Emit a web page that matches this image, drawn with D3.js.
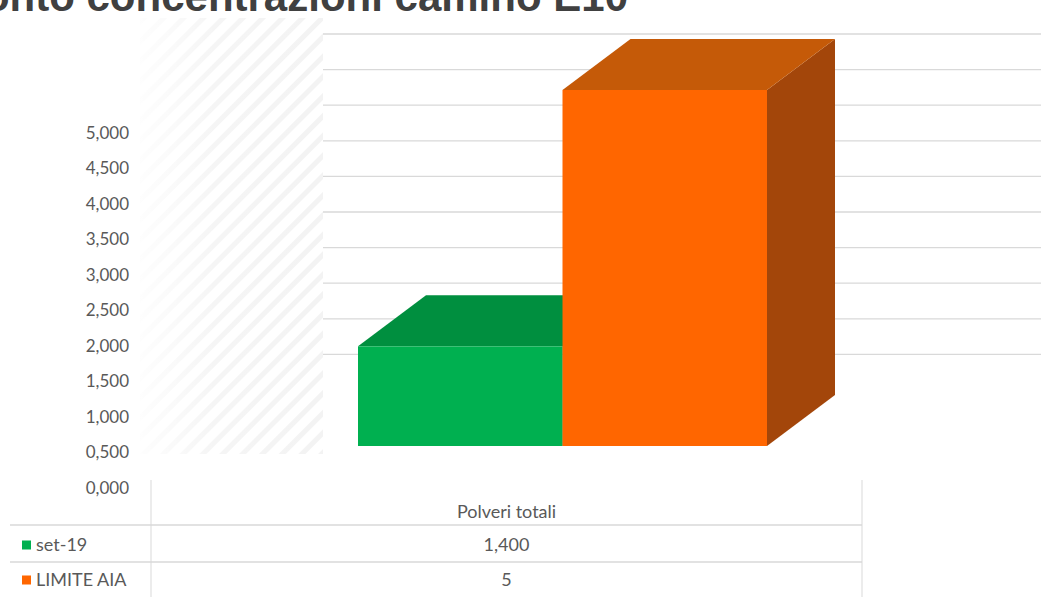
<!DOCTYPE html>
<html>
<head>
<meta charset="utf-8">
<script src="https://cdn.jsdelivr.net/npm/d3@7"></script>
<style>
html,body{margin:0;padding:0;background:#fff;overflow:hidden;}
svg{display:block;}
</style>
</head>
<body>
<svg id="chart" width="1041" height="597"></svg>
<script>
// ---- data ----
const titleText = "Confronto concentrazioni camino E10";
const categories = ["Polveri totali"];
const seriesNames = ["set-19", "LIMITE AIA"];
const seriesValues = [1.4, 5];
const tableLabels = ["1,400", "5"];
const tickValues = [0, 0.5, 1, 1.5, 2, 2.5, 3, 3.5, 4, 4.5, 5];
const gridValues = [0.5, 1, 1.5, 2, 2.5, 3, 3.5, 4, 4.5, 5];

// ---- styles ----
const frontColors = ["#00b050", "#ff6600"];
const topColors = ["#008f3f", "#c55a08"];
const sideColors = ["#007a35", "#a3460a"];
const textColor = "#595959";
const font = "Lato, 'Open Sans', sans-serif";

const svg = d3.select("#chart");

// depth offset of the 3D bars
const dx = 68, dy = -51;

// scales
const yFront = d3.scaleLinear().domain([0, 5]).range([446, 90]);
const yBack = d3.scaleLinear().domain([0, 5]).range([390, 34]);
const yAxisScale = d3.scaleLinear().domain([0, 5]).range([488, 133]);
const xSeries = d3.scaleBand().domain(seriesNames).range([358, 767]).padding(0);

// side wall hatch pattern
const defs = svg.append("defs");
const pat = defs.append("pattern").attr("id", "hatch").attr("patternUnits", "userSpaceOnUse")
  .attr("width", 14).attr("height", 14).attr("patternTransform", "rotate(-45)");
pat.append("rect").attr("width", 14).attr("height", 14).attr("fill", "#ffffff");
pat.append("rect").attr("width", 14).attr("height", 5).attr("fill", "#f3f3f3");
const fade = defs.append("linearGradient").attr("id", "fade").attr("x1", 0).attr("x2", 1);
fade.append("stop").attr("offset", "0").attr("stop-color", "#fff").attr("stop-opacity", 0.9);
fade.append("stop").attr("offset", "0.4").attr("stop-color", "#fff").attr("stop-opacity", 0.2);
fade.append("stop").attr("offset", "1").attr("stop-color", "#fff").attr("stop-opacity", 0);

svg.append("rect").attr("x", 140).attr("y", 18).attr("width", 183).attr("height", 436).attr("fill", "url(#hatch)");
svg.append("rect").attr("x", 140).attr("y", 18).attr("width", 183).attr("height", 436).attr("fill", "url(#fade)");

// title (cropped at top, as in the reference)
svg.append("text").attr("x", 628).attr("y", 11).attr("text-anchor", "end")
  .attr("font-family", "'Liberation Sans', Arial, sans-serif").attr("font-weight", "bold")
  .attr("font-size", 42).attr("fill", "#404040").text(titleText);

// back wall gridlines
svg.append("g").selectAll("line").data(gridValues).join("line")
  .attr("x1", 323).attr("x2", 1041)
  .attr("y1", d => yBack(d)).attr("y2", d => yBack(d))
  .attr("stroke", "#d9d9d9").attr("stroke-width", 1.3);

// y axis labels
const fmt = v => d3.format(".3f")(v).replace(".", ",");
const yAxis = d3.axisLeft(yAxisScale).tickValues(tickValues).tickFormat(fmt).tickSize(0).tickPadding(0);
const ag = svg.append("g").attr("transform", "translate(129,0)").call(yAxis);
ag.select(".domain").remove();
ag.selectAll("text").attr("font-family", font).attr("font-size", 17).attr("fill", textColor);

// bars
const bars = seriesNames.map((s, i) => ({ name: s, value: seriesValues[i], i }));
const bg = svg.append("g");
bars.forEach(b => {
  const x0 = xSeries(b.name), x1 = x0 + xSeries.bandwidth();
  const y0 = yFront(0), y1 = yFront(b.value);
  const g = bg.append("g");
  g.append("path").attr("d", d3.line()([[x1, y0], [x1 + dx, y0 + dy], [x1 + dx, y1 + dy], [x1, y1]]))
    .attr("fill", sideColors[b.i]);
  g.append("path").attr("d", d3.line()([[x0, y1], [x1, y1], [x1 + dx, y1 + dy], [x0 + dx, y1 + dy]]))
    .attr("fill", topColors[b.i]);
  g.append("rect").attr("x", x0).attr("y", y1).attr("width", x1 - x0).attr("height", y0 - y1)
    .attr("fill", frontColors[b.i]);
});

// data table
const tg = svg.append("g");
const lineColor = "#d9d9d9";
tg.append("line").attr("x1", 151).attr("x2", 151).attr("y1", 480).attr("y2", 597).attr("stroke", lineColor);
tg.append("line").attr("x1", 862).attr("x2", 862).attr("y1", 480).attr("y2", 597).attr("stroke", lineColor);
[525, 562].forEach(y => tg.append("line").attr("x1", 10).attr("x2", 862).attr("y1", y).attr("y2", y).attr("stroke", lineColor).attr("stroke-width", 1.3));

const colCenter = (151 + 862) / 2;
tg.append("text").attr("x", colCenter).attr("y", 518).attr("text-anchor", "middle")
  .attr("font-family", font).attr("font-size", 18).attr("fill", textColor).text(categories[0]);

const rowY = [545, 580];
seriesNames.forEach((s, i) => {
  tg.append("rect").attr("x", 22).attr("y", rowY[i] - 4.5).attr("width", 9).attr("height", 9).attr("fill", frontColors[i]);
  tg.append("text").attr("x", 36).attr("y", rowY[i] + 6).attr("font-family", font).attr("font-size", 18)
    .attr("fill", textColor).text(s);
  tg.append("text").attr("x", colCenter).attr("y", rowY[i] + 6).attr("text-anchor", "middle")
    .attr("font-family", font).attr("font-size", 18).attr("fill", textColor).text(tableLabels[i]);
});
</script>
</body>
</html>
